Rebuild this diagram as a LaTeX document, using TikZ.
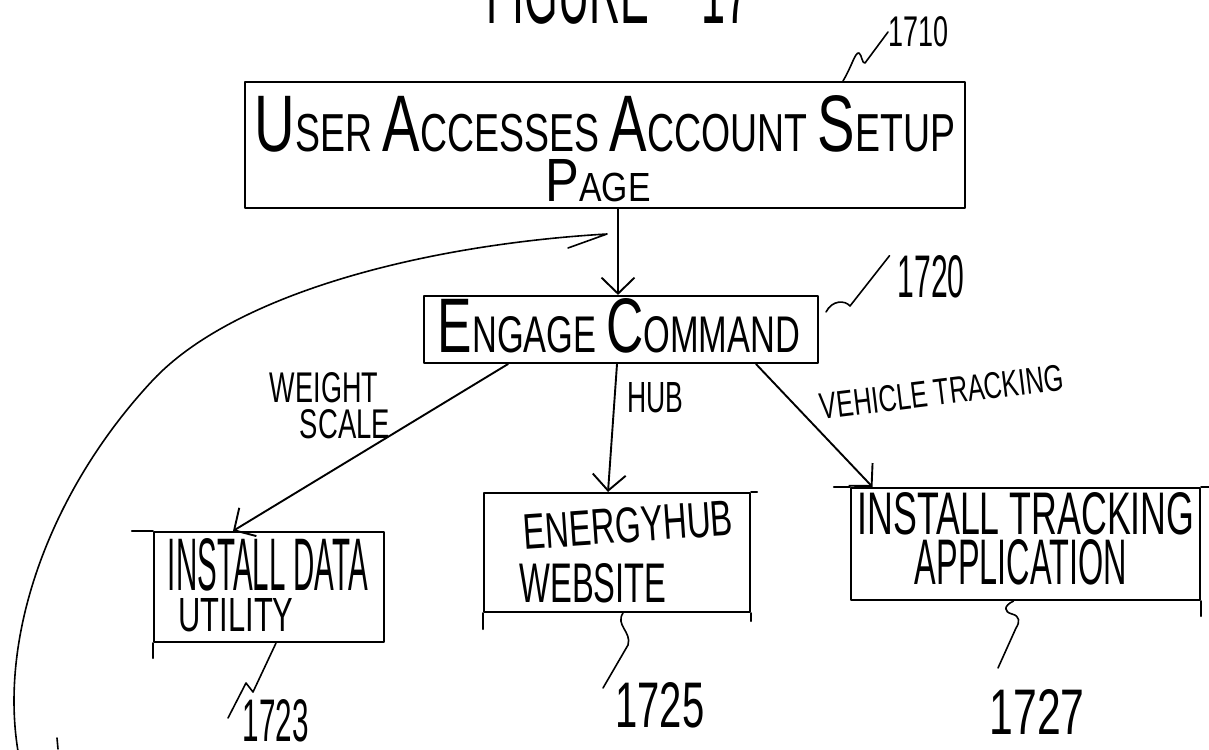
\documentclass[tikz,border=0pt]{standalone}
\usepackage{fontspec}
\setmainfont{Liberation Sans}
\usepackage{graphicx}
\usetikzlibrary{arrows.meta}
% hand-lettered text: squeeze a line to a given width and height (in pt)
\newcommand{\hw}[3]{\resizebox{#1pt}{#2pt}{#3}}
% taller first letter of a word
\newcommand{\Bg}[1]{{\fontsize{15}{15}\selectfont #1}}
\begin{document}
\begin{tikzpicture}[x=1pt,y=-1pt,line cap=round,line join=round,
  ink/.style={line width=2.1pt,black},
  box/.style={draw,ink,inner sep=0pt},
  txt/.style={inner sep=0pt,outer sep=0pt},
  barb/.style={ink,line width=1.9pt,-{Straight Barb[length=16pt,width=33pt,line width=1.9pt]}},
  lead/.style={line width=1.6pt}]
\useasboundingbox (0,0) rectangle (1209,749);
\clip (0,0) rectangle (1209,749);

% title, running off the top edge
\node[txt] (title) at (618,-7) {\hw{263}{62}{FIGURE\hspace{1.2em}17}};

% boxes
\node[box,minimum width=720pt,minimum height=126pt] (b1710) at (605,145) {};
\node[box,minimum width=394pt,minimum height=67pt]  (b1720) at (621,329.5) {};
\node[box,minimum width=230pt,minimum height=110pt] (b1723) at (269,587) {};
\node[box,minimum width=266pt,minimum height=119pt] (b1725) at (617,552.5) {};
\node[box,minimum width=349pt,minimum height=112pt] (b1727) at (1025.5,544) {};

% stray overshoots of the hand-drawn box edges
\draw[ink] (b1723.north west) -- ++(-21pt,0);
\draw[ink] (b1723.south west) -- ++(0,-15pt);
\draw[ink] (b1725.north east) -- ++(6pt,0);
\draw[ink] (b1725.south west) -- ++(0,-16pt);
\draw[ink] (b1725.south east) -- ++(0,-8pt);
\draw[ink] (b1727.north west) -- ++(-16pt,0);
\draw[ink] (b1727.north east) -- ++(8pt,0);
\draw[ink] (b1727.south east) -- ++(0,-15pt);

% box texts
\node[txt] (t1710a) at (605,123.5) {\hw{700}{56}{\Bg{U}SER \Bg{A}CCESSES \Bg{A}CCOUNT \Bg{S}ETUP}};
\node[txt] (t1710b) at (598,181) {\hw{105}{42}{\Bg{P}AGE}};
\node[txt] (t1720)  at (619,326) {\hw{362}{54}{\Bg{E}NGAGE \Bg{C}OMMAND}};
\node[txt] (t1723a) at (268,565) {\hw{200}{52}{INSTALL DATA}};
\node[txt] (t1723b) at (236,615) {\hw{115}{33}{UTILITY}};
\node[txt,rotate=4] (t1725a) at (628,525) {\hw{210}{35}{ENERGYHUB}};
\node[txt] (t1725b) at (593,583) {\hw{147}{39}{WEBSITE}};
\node[txt] (t1727a) at (1026,514) {\hw{337}{42}{INSTALL TRACKING}};
\node[txt] (t1727b) at (1021,562) {\hw{212}{45}{APPLICATION}};

% branch labels
\node[txt] (lw1) at (324,388) {\hw{108}{30}{WEIGHT}};
\node[txt] (lw2) at (345,424) {\hw{90}{29}{SCALE}};
\node[txt] (lhub) at (655,398) {\hw{56}{30}{HUB}};
\node[txt,rotate=7] (lveh) at (942,392) {\hw{245}{26}{VEHICLE TRACKING}};

% reference numerals
\node[txt] (n1710) at (918,32)  {\hw{60}{30}{1710}};
\node[txt] (n1720) at (931,277) {\hw{67}{42}{1720}};
\node[txt] (n1723) at (276,721) {\hw{66}{42}{1723}};
\node[txt] (n1725) at (660,705) {\hw{89}{45}{1725}};
\node[txt] (n1727) at (1037,712) {\hw{95}{45}{1727}};

% flow arrows
\draw[barb] ([xshift=13pt]b1710.south) -- ([xshift=-3pt]b1720.north);
\draw[barb] ([xshift=-113pt]b1720.south) -- ([xshift=-36pt]b1723.north);
\draw[barb] ([xshift=-4pt]b1720.south) -- ([xshift=-9pt]b1725.north);
\draw[barb] ([xshift=135pt]b1720.south) -- ([xshift=-153pt]b1727.north);

% return path sweeping in from below
\coordinate (loopstart) at (20,762);
\coordinate (loopbend) at (153,380);
\coordinate (loopend) at (607,234);
\draw[lead] (loopstart) .. controls (-5,640) and (50,490) .. (loopbend)
  .. controls (233,295) and (420,245) .. (loopend) -- (568,248);
\draw[lead] (57,738) -- (58,749);

% leader lines to the numerals
\draw[lead] ([xshift=238pt]b1710.north) .. controls (852,66) and (855,52) .. (859,53)
  .. controls (862,55) and (862,64) .. (865,63) -- (n1710.west);
\draw[lead] ([shift={(7pt,-17pt)}]b1720.north east) .. controls (832,300) and (845,300) .. (850,306)
  -- ([xshift=-8pt]n1720.north west);
\draw[lead] ([xshift=7pt]b1723.south) -- (253,692) -- (246,683) -- (228,718);
\draw[lead] ([xshift=6pt]b1725.south) .. controls (615,625) and (632,632) .. (628,645) -- (603,688);
\draw[lead] ([xshift=-12pt]b1727.south) .. controls (1003,606) and (1004,612) .. (1012,614)
  .. controls (1020,616) and (1020,622) .. (1016,628) -- (998,668);
\end{tikzpicture}
\end{document}
